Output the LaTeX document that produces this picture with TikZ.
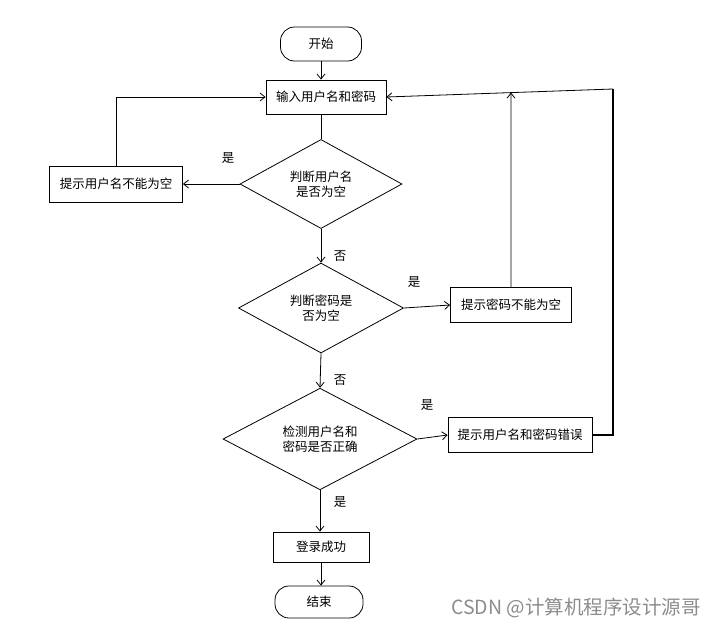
\documentclass[tikz,border=0pt]{standalone}
\usepackage{fontspec}
\setmainfont{Noto Sans CJK SC}
\usetikzlibrary{shapes.geometric,arrows.meta}
\begin{document}
\begin{tikzpicture}[x=1pt,y=-1pt,line width=.8pt,>={Straight Barb[length=5pt,width=8pt]},font=\fontsize{12.5}{15}\selectfont,
	term/.style={draw,rounded corners=14pt,minimum height=34pt,inner sep=0},
	box/.style={draw,minimum height=34pt,inner sep=0},
	cond/.style={draw,diamond,inner sep=0,align=center},
	lab/.style={inner sep=0}]
	\useasboundingbox (0,0) rectangle (717,630);
	% main column
	\node[term,minimum width=81pt] (start) at (321,44) {开始};
	\node[box,minimum width=120pt] (input) at (326,97) {输入用户名和密码};
	\node[cond,minimum width=162pt,minimum height=88pt] (chkuser) at (321,184) {判断用户名\\是否为空};
	\node[cond,minimum width=165pt,minimum height=90pt] (chkpwd) at (321,308) {判断密码是\\否为空};
	\node[cond,minimum width=194pt,minimum height=90pt] (chkboth) at (320,439) {检测用户名和\\密码是否正确};
	\node[box,minimum width=96pt,minimum height=30pt] (ok) at (321,547) {登录成功};
	\node[term,minimum width=88pt,minimum height=32pt] (stop) at (319,602) {结束};
	% side boxes
	\node[box,minimum width=133pt,minimum height=36pt] (nouser) at (116,184) {提示用户名不能为空};
	\node[box,minimum width=121pt,minimum height=35pt] (nopwd) at (511,305) {提示密码不能为空};
	\node[box,minimum width=144pt,minimum height=35pt] (wrong) at (520,435) {提示用户名和密码错误};
	\coordinate (corner) at (613,89);
	\coordinate (merge) at (intersection cs:first line={(corner)--(input.east)},second line={(nopwd.north)--(511,0)});
	% labels
	\node[lab] (y1) at (228,158) {是};
	\node[lab] (n1) at (340,256) {否};
	\node[lab] (y2) at (414,282) {是};
	\node[lab] (n2) at (340,380) {否};
	\node[lab] (y3) at (427,405) {是};
	\node[lab] (y4) at (340,502) {是};
	% arrows
	\draw[->] (start.south) -- (start.south |- input.north);
	\draw (input.south -| start.south) -- (chkuser.north);
	\draw[->] (chkuser.south) -- (chkpwd.north);
	\draw[->] (chkpwd.south) -- (chkboth.north);
	\draw[->] (chkboth.south) -- (chkboth.south |- ok.north);
	\draw[->] (ok.south) -- (ok.south |- stop.north);
	\draw[->] (chkuser.west) -- (nouser.east);
	\draw[->] (nouser.north) |- (input.west);
	\draw[->] (chkpwd.east) -- (nopwd.west);
	\draw[->] (nopwd.north) -- (merge);
	\draw[->] (chkboth.east) -- (wrong.west);
	\draw[line width=1.4pt] (wrong.east) -| (corner);
	\draw[->] (corner) -- (input.east);
	% watermark
	\node[lab,text=black!45,font=\fontsize{19.5}{22}\selectfont] (mark) at (576,608) {CSDN @计算机程序设计源哥};
\end{tikzpicture}
\end{document}
